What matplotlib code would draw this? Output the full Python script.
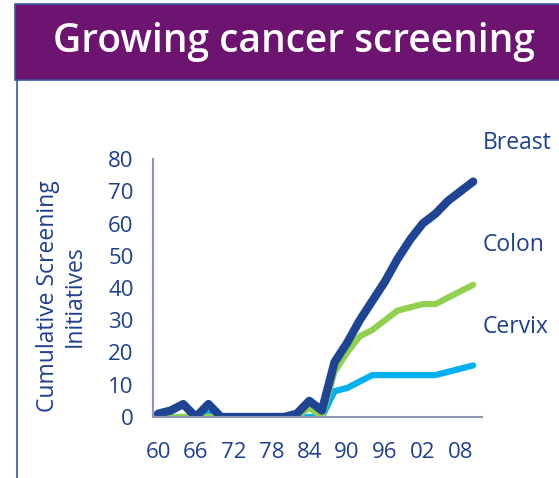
import numpy as np
import matplotlib
matplotlib.use("Agg")
import matplotlib.pyplot as plt
from matplotlib.patches import Rectangle
from matplotlib.lines import Line2D

## DATA
years = list(range(1960, 2011, 2))
breast = [1, 2, 4, 0, 4, 0, 0, 0, 0, 0, 0, 1, 5, 2, 17, 23, 30, 36, 42, 49, 55, 60, 63, 67, 70, 73]
colon = [0, 0, 0, 0, 0, 0, 0, 0, 0, 0, 0, 0, 3, 0, 14, 20, 25, 27, 30, 33, 34, 35, 35, 37, 39, 41]
cervix = [0, 0, 0, 0, 1, 0, 0, 0, 0, 0, 0, 0, 0, 0, 8, 9, 11, 13, 13, 13, 13, 13, 13, 14, 15, 16]
tick_years = [1960, 1966, 1972, 1978, 1984, 1990, 1996, 2002, 2008]
tick_labels = ["60", "66", "72", "78", "84", "90", "96", "02", "08"]
yticks = [0, 10, 20, 30, 40, 50, 60, 70, 80]

navy = "#1F4493"
green = "#92D050"
cyan = "#00B0F0"
purple = "#6D1470"
txt = "#1F3F8F"

plt.rcParams["font.family"] = ["Open Sans", "DejaVu Sans"]

fig = plt.figure(figsize=(5.59, 4.78), dpi=100)

# header band and panel border
fig.patches.append(Rectangle((15/559, 1 - 80/478), 1, 76/478, transform=fig.transFigure,
                             facecolor=purple, edgecolor="#3A56A0", linewidth=1.2))
fig.lines.append(Line2D([17/559, 17/559], [0, 1 - 80/478], transform=fig.transFigure,
                        color="#3A56A0", linewidth=1.2))
fig.text(53/559, 1 - 42/478, "Growing cancer screening", color="white",
         fontsize=28, fontweight="semibold", va="center", ha="left")

ax = fig.add_axes([153/559, 1 - 417/478, (482 - 153)/559, (417 - 159)/478])
ax.plot(years, cervix, color=cyan, linewidth=4.5, solid_capstyle="round", solid_joinstyle="round")
ax.plot(years, colon, color=green, linewidth=4.5, solid_capstyle="round", solid_joinstyle="round")
ax.plot(years, breast, color=navy, linewidth=6, solid_capstyle="round", solid_joinstyle="round")

ax.set_xlim(1959.2, 2011.4)
ax.set_ylim(0, 80)
ax.set_xticks(tick_years)
ax.set_xticklabels(tick_labels)
ax.set_yticks(yticks)
ax.tick_params(length=0, labelsize=16, colors=txt)
ax.tick_params(axis="x", pad=18)
ax.tick_params(axis="y", pad=14)
for s in ["top", "right"]:
    ax.spines[s].set_visible(False)
for s in ["left", "bottom"]:
    ax.spines[s].set_color("#9096B8")
    ax.spines[s].set_linewidth(1.5)
ax.set_ylabel("Cumulative Screening\nInitiatives", color=txt, fontsize=16.5,
              linespacing=1.2)
ax.yaxis.set_label_coords(-0.2, 0.47)

fig.text(483/559, 1 - 143/478, "Breast", color=txt, fontsize=16.5, va="center")
fig.text(483/559, 1 - 245/478, "Colon", color=txt, fontsize=16.5, va="center")
fig.text(483/559, 1 - 327/478, "Cervix", color=txt, fontsize=16.5, va="center")

fig.savefig("out.png", dpi=100)
